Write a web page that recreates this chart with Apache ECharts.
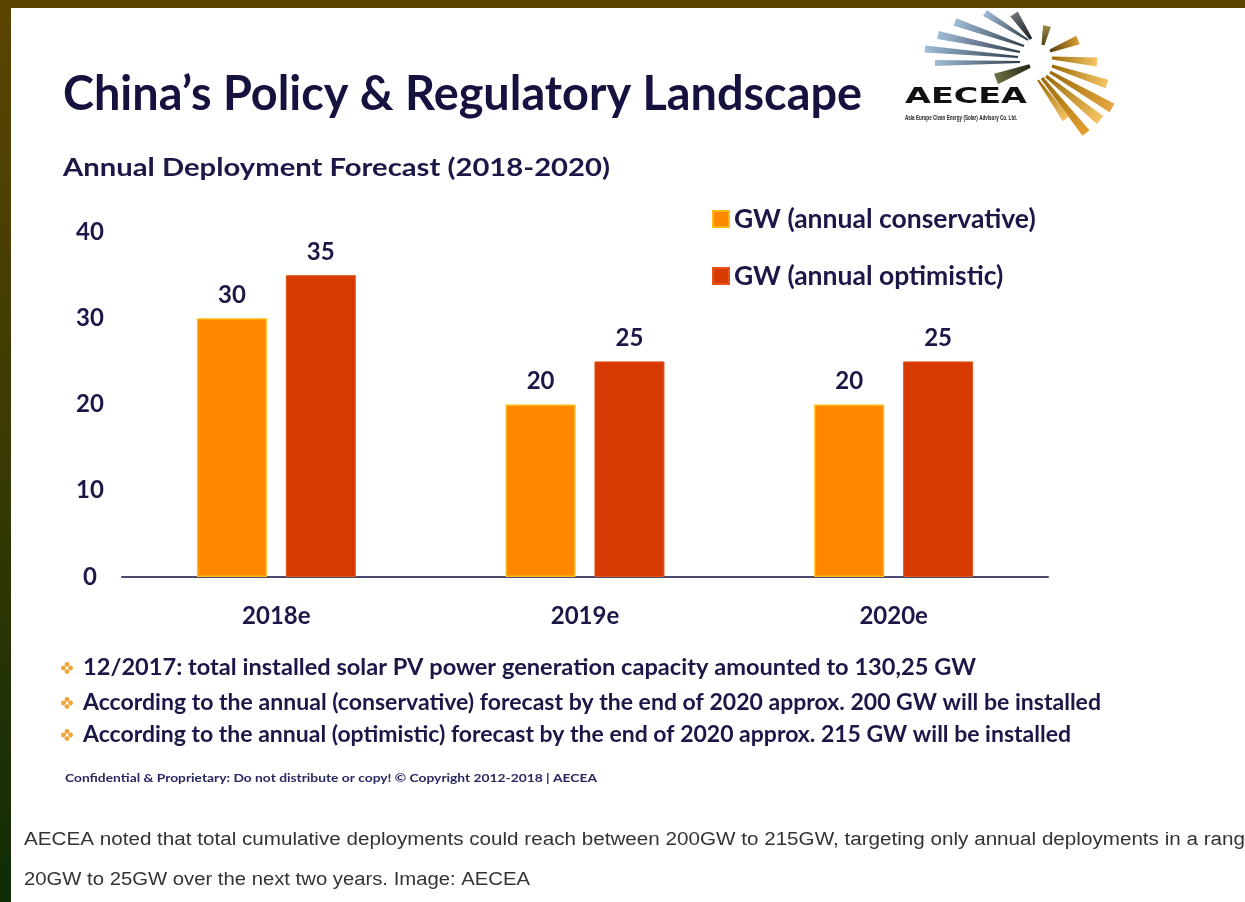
<!DOCTYPE html>
<html>
<head>
<meta charset="utf-8">
<title>China’s Policy &amp; Regulatory Landscape</title>
<script src="https://cdn.jsdelivr.net/npm/echarts@6/dist/echarts.min.js"></script>
<style>
  html, body { margin: 0; padding: 0; background: #ffffff; }
  #chart { width: 1245px; height: 902px; }
</style>
</head>
<body>
<div id="chart"></div>
<script>
// ---- data ----
const categories = ['2018e', '2019e', '2020e'];
const conservative = [30, 20, 20];
const optimistic = [35, 25, 25];
const seriesNames = ['GW (annual conservative)', 'GW (annual optimistic)'];
const yTicks = { min: 0, max: 40, step: 10 };
const titleText = 'China’s Policy & Regulatory Landscape';
const subtitleText = 'Annual Deployment Forecast (2018-2020)';
const notes = [
  '12/2017: total installed solar PV power generation capacity amounted to 130,25 GW',
  'According to the annual (conservative) forecast by the end of 2020 approx. 200 GW will be installed',
  'According to the annual (optimistic) forecast by the end of 2020 approx. 215 GW will be installed'
];
const footnote = 'Confidential & Proprietary: Do not distribute or copy! © Copyright 2012-2018 | AECEA';
const caption = [
  'AECEA noted that total cumulative deployments could reach between 200GW to 215GW, targeting only annual deployments in a range of',
  '20GW to 25GW over the next two years. Image: AECEA'
];
const brand = 'AECEA';
const brandLine = 'Asia Europe Clean Energy (Solar) Advisory Co. Ltd.';

// ---- styling ----
const NAVY = '#1b1848';
const ORANGE = '#ff8800';
const RED = '#d63a02';
const FONT = 'Lato';

// horizontal scale that makes a string span a given width
const measureCtx = document.createElement('canvas').getContext('2d');
function fitScale(text, font, width) {
  measureCtx.font = font;
  return width / measureCtx.measureText(text).width;
}

function textEl(text, x, y, font, width, fill, extra) {
  const s = width ? fitScale(text, font, width) : 1;
  return Object.assign({
    type: 'text',
    x: x, y: y,
    scaleX: s,
    silent: true,
    style: {
      text: text, x: 0, y: 0, font: font, fill: fill,
      textAlign: 'left', textVerticalAlign: 'middle',
      align: 'left', verticalAlign: 'middle'
    }
  }, extra || {});
}

// one tapered ray of the logo, narrow at the hub and wider outside
function ray(x1, y1, x2, y2, w1, w2, c1, c2) {
  const dx = x2 - x1, dy = y2 - y1;
  const len = Math.sqrt(dx * dx + dy * dy);
  const nx = -dy / len, ny = dx / len;
  return {
    type: 'polygon',
    silent: true,
    shape: {
      points: [
        [x1 + nx * w1 / 2, y1 + ny * w1 / 2],
        [x2 + nx * w2 / 2, y2 + ny * w2 / 2],
        [x2 - nx * w2 / 2, y2 - ny * w2 / 2],
        [x1 - nx * w1 / 2, y1 - ny * w1 / 2]
      ]
    },
    style: {
      fill: {
        type: 'linear', x: x1, y: y1, x2: x2, y2: y2, global: true,
        colorStops: [{ offset: 0, color: c1 }, { offset: 1, color: c2 }]
      }
    }
  };
}

// four-dot diamond bullet
function bullet(cx, cy) {
  const d = 3.6, r = 2.4;
  return [[0, -d], [d, 0], [0, d], [-d, 0]].map(function (p) {
    return {
      type: 'circle', silent: true,
      shape: { cx: cx + p[0], cy: cy + p[1], r: r },
      style: { fill: '#f2a23a' }
    };
  });
}

const graphics = [];

// frame: brown top strip and a brown-to-green strip on the left
graphics.push({
  type: 'rect', silent: true, z: 100,
  shape: { x: 0, y: 0, width: 1245, height: 8 },
  style: { fill: '#5b4500' }
});
graphics.push({
  type: 'rect', silent: true, z: 100,
  shape: { x: 0, y: 0, width: 11, height: 902 },
  style: {
    fill: {
      type: 'linear', x: 0, y: 0, x2: 0, y2: 1,
      colorStops: [
        { offset: 0, color: '#5b4500' },
        { offset: 0.5, color: '#3a3a03' },
        { offset: 1, color: '#0f2c06' }
      ]
    }
  }
});

// headings
graphics.push(textEl(titleText, 63, 95, 'bold 48px ' + FONT, 799, '#16123f'));
graphics.push(textEl(subtitleText, 63, 168, 'bold 25px ' + FONT, 547, NAVY));

// logo rays
const blueIn = '#2f3d4c', blueOut = '#9fbcd6';
const goldIn = '#9a6a08', goldOut = '#f6c465';
[
  [1028, 40, 985, 13, 2, 7, blueIn, blueOut],
  [1024, 46, 955, 22, 2, 8, blueIn, blueOut],
  [1020, 52, 938, 35, 2, 8, blueIn, blueOut],
  [1018, 57, 925, 49, 2, 7, blueIn, blueOut],
  [1020, 62, 935, 63, 2, 6, blueIn, blueOut],
  [1031, 39, 1014, 14, 3, 9, '#1e1e22', '#6b7078'],
  [1030, 66, 996, 79, 4, 11, '#262510', '#707048'],
  [1043, 45, 1047, 26, 3, 8, '#4d4318', '#9a8a40'],
  [1050, 51, 1078, 40, 3, 9, '#5a4410', '#d89a30'],
  [1052, 58, 1097, 62, 3, 9, goldIn, goldOut],
  [1052, 66, 1107, 84, 3, 9, goldIn, goldOut],
  [1050, 72, 1112, 108, 3, 10, goldIn, '#e8a640'],
  [1046, 76, 1100, 120, 3, 10, goldIn, goldOut],
  [1042, 78, 1086, 133, 3, 9, goldIn, '#e59e30'],
  [1038, 80, 1066, 119, 2, 8, goldIn, goldOut]
].forEach(function (r) { graphics.push(ray.apply(null, r)); });
graphics.push(textEl(brand, 905, 97, 'bold 22px "DejaVu Sans"', 122, '#111111'));
graphics.push(textEl(brandLine, 905, 118, 'bold 7px "Liberation Sans"', 112, '#222222'));

// bullet notes
const noteY = [668, 703, 735];
const noteW = [893, 1018, 988];
notes.forEach(function (t, i) {
  bullet(67, noteY[i]).forEach(function (c) { graphics.push(c); });
  graphics.push(textEl(t, 83, noteY[i], 'bold 22px ' + FONT, noteW[i], NAVY));
});
graphics.push(textEl(footnote, 65, 778, 'bold 11px ' + FONT, 532, '#2a2860'));

// caption below the slide; the first line runs past the right edge
const capFont = '18px "Liberation Sans"';
const cut = caption[0].indexOf('in a range') + 'in a rang'.length;
const capScale1 = fitScale(caption[0].slice(0, cut), capFont, 1221);
const capScale2 = fitScale(caption[1], capFont, 506);
graphics.push(textEl(caption[0], 24, 840, capFont, 0, '#333333', { scaleX: capScale1 }));
graphics.push(textEl(caption[1], 24, 880, capFont, 0, '#333333', { scaleX: capScale2 }));

const labelStyle = {
  show: true, position: 'top', distance: 11,
  fontFamily: FONT, fontWeight: 'bold', fontSize: 24, color: NAVY
};

const chart = echarts.init(document.getElementById('chart'), null, { renderer: 'canvas' });
chart.setOption({
  backgroundColor: '#ffffff',
  animation: false,
  textStyle: { fontFamily: FONT },
  grid: { left: 122, right: 197, top: 232, bottom: 325, containLabel: false },
  legend: {
    orient: 'vertical', left: 707, top: 199,
    itemWidth: 16, itemHeight: 16, itemGap: 27,
    icon: 'rect',
    selectedMode: false,
    data: seriesNames,
    textStyle: { fontFamily: FONT, fontWeight: 'bold', fontSize: 26.5, color: NAVY, lineHeight: 30 }
  },
  xAxis: {
    type: 'category',
    data: categories,
    axisTick: { show: false },
    axisLine: { lineStyle: { color: '#4b4a6e', width: 2 } },
    axisLabel: { margin: 27, fontFamily: FONT, fontWeight: 'bold', fontSize: 24, color: NAVY }
  },
  yAxis: {
    type: 'value',
    min: yTicks.min, max: yTicks.max, interval: yTicks.step,
    axisLine: { show: false },
    axisTick: { show: false },
    splitLine: { show: false },
    axisLabel: { margin: 32, align: 'center', fontFamily: FONT, fontWeight: 'bold', fontSize: 24, color: NAVY }
  },
  series: [
    {
      name: seriesNames[0], type: 'bar', data: conservative,
      barWidth: 70, barGap: '27%',
      itemStyle: { color: ORANGE, borderColor: '#ffb81a', borderWidth: 1.5 },
      label: labelStyle
    },
    {
      name: seriesNames[1], type: 'bar', data: optimistic,
      barWidth: 70,
      itemStyle: { color: RED, borderColor: '#e2561a', borderWidth: 1 },
      label: labelStyle
    }
  ],
  graphic: { elements: graphics }
});
</script>
</body>
</html>
